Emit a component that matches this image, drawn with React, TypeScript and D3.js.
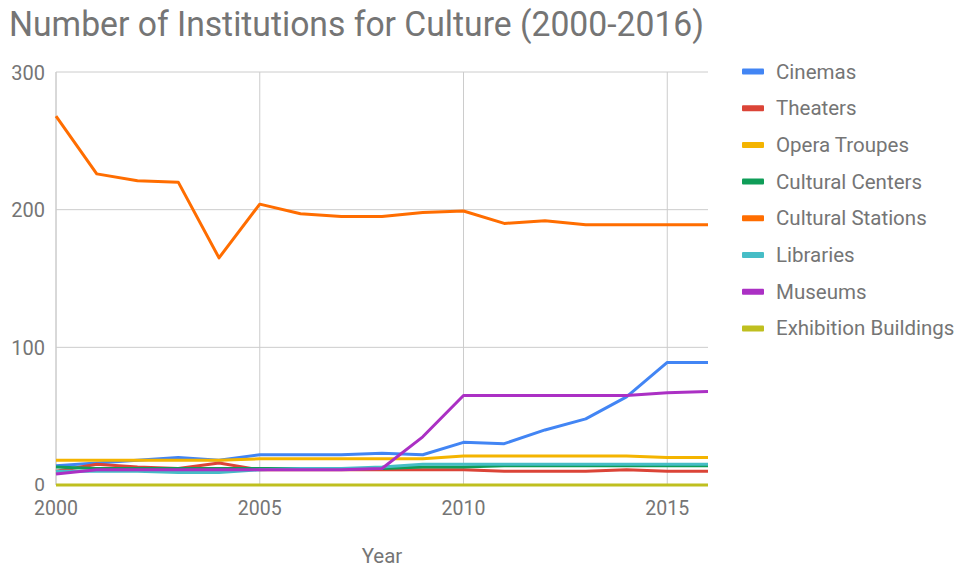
import React from "react";
import * as d3 from "d3";

const years = [2000, 2001, 2002, 2003, 2004, 2005, 2006, 2007, 2008, 2009, 2010, 2011, 2012, 2013, 2014, 2015, 2016];

const seriesNames = ["Cinemas", "Theaters", "Opera Troupes", "Cultural Centers", "Cultural Stations", "Libraries", "Museums", "Exhibition Buildings"];
const seriesColors = ["#4285F4", "#DB4437", "#F4B400", "#0F9D58", "#FF6D00", "#46BDC6", "#AB30C4", "#BFBF1F"];

const cinemas = [14, 16, 18, 20, 18, 22, 22, 22, 23, 22, 31, 30, 40, 48, 64, 89, 89];
const theaters = [10, 15, 13, 12, 16, 11, 11, 11, 11, 11, 11, 10, 10, 10, 11, 10, 10];
const operaTroupes = [18, 18, 18, 18, 18, 19, 19, 19, 19, 19, 21, 21, 21, 21, 21, 20, 20];
const culturalCenters = [13, 12, 12, 12, 12, 12, 12, 12, 12, 13, 13, 14, 14, 14, 14, 14, 14];
const culturalStations = [268, 226, 221, 220, 165, 204, 197, 195, 195, 198, 199, 190, 192, 189, 189, 189, 189];
const libraries = [10, 10, 10, 9, 9, 11, 12, 12, 13, 15, 15, 15, 15, 15, 15, 15, 15];
const museums = [8, 11, 11, 11, 11, 11, 11, 11, 12, 35, 65, 65, 65, 65, 65, 67, 68];
const exhibitionBuildings = [0, 0, 0, 0, 0, 0, 0, 0, 0, 0, 0, 0, 0, 0, 0, 0, 0];

const seriesValues = [cinemas, theaters, operaTroupes, culturalCenters, culturalStations, libraries, museums, exhibitionBuildings];

const yTicks = [0, 100, 200, 300];
const xTicks = [2000, 2005, 2010, 2015];

const title = "Number of Institutions for Culture (2000-2016)";
const xTitle = "Year";

export default function App() {
  const W = 960, H = 569;
  const left = 56, right = 708, top = 72, bottom = 485;
  const x = d3.scaleLinear().domain([2000, 2016]).range([left, right]);
  const y = d3.scaleLinear().domain([0, 300]).range([bottom, top]);
  const line = d3.line<number>().x((_, i) => x(years[i])).y((d) => y(d));
  const font = "Roboto, 'Noto Sans', sans-serif";

  return (
    <svg width={W} height={H} style={{ position: "absolute", left: 0, top: 0, background: "#fff" }} fontFamily={font}>
      <rect x={0} y={0} width={W} height={H} fill="#fff" />
      <text x={9} y={36} fontSize={34.5} fill="#757575" textLength={695} lengthAdjust="spacingAndGlyphs">{title}</text>
      {yTicks.map((t) => (
        <g key={"y" + t}>
          <line x1={left} x2={right} y1={y(t)} y2={y(t)} stroke="#cccccc" strokeWidth={1} />
          <text x={45} y={y(t) + (t === 0 ? 5.5 : 7.5)} fontSize={t === 0 ? 19 : 20} fill="#757575" textAnchor="end">{t}</text>
        </g>
      ))}
      {xTicks.map((t) => (
        <g key={"x" + t}>
          <line x1={x(t)} x2={x(t)} y1={top} y2={bottom} stroke="#cccccc" strokeWidth={1} />
          <text x={x(t)} y={515} fontSize={19.5} fill="#757575" textAnchor="middle">{t}</text>
        </g>
      ))}
      <line x1={left} x2={left} y1={top} y2={bottom} stroke="#cccccc" strokeWidth={1} />
      <text x={382} y={563} fontSize={20.5} fill="#757575" textAnchor="middle">{xTitle}</text>
      {seriesValues.map((vals, si) => (
        <path key={"s" + si} d={line(vals) || ""} fill="none" stroke={seriesColors[si]} strokeWidth={3} strokeLinejoin="round" />
      ))}
      {seriesNames.map((name, i) => {
        const ly = 71.5 + i * 36.7;
        return (
          <g key={"l" + i}>
            <rect x={742} y={ly - 3} width={22} height={6} rx={1} fill={seriesColors[i]} />
            <text x={776} y={ly + 7} fontSize={20.5} fill="#757575">{name}</text>
          </g>
        );
      })}
    </svg>
  );
}
